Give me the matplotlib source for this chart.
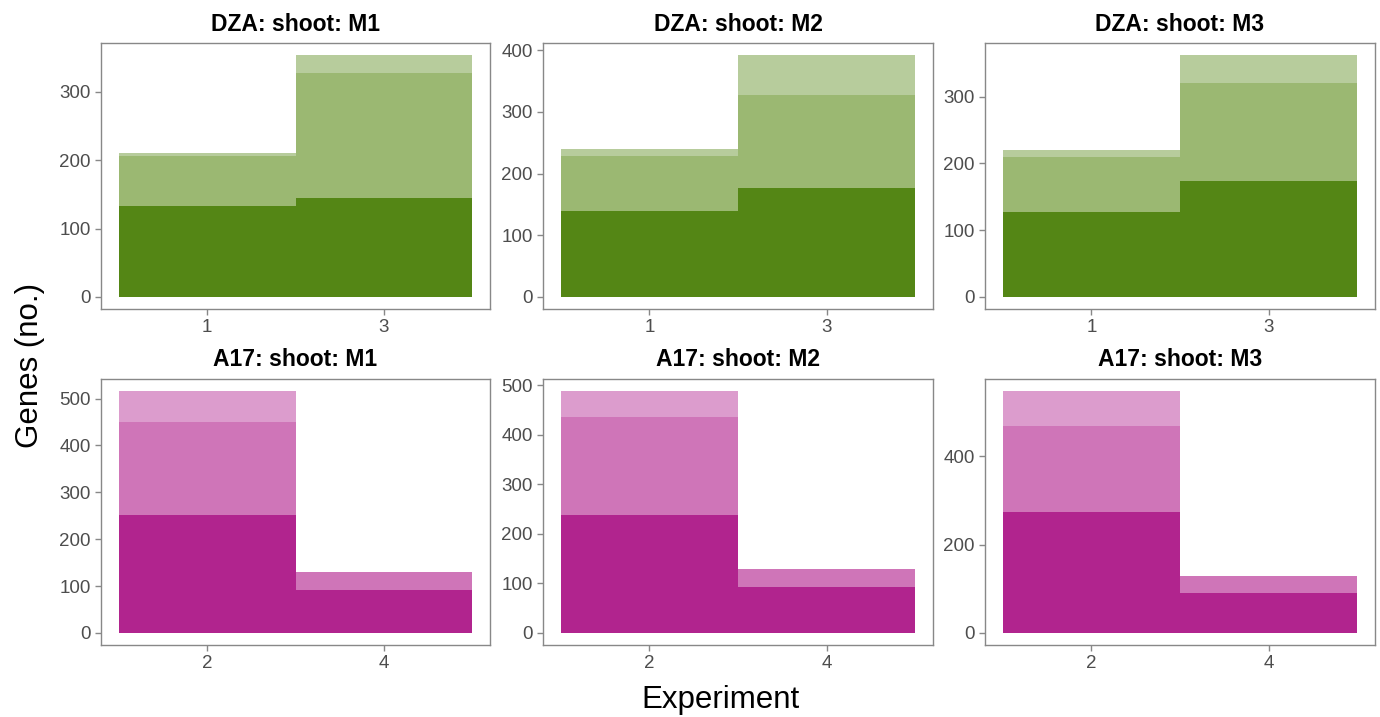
import matplotlib.pyplot as plt
import numpy as np

plt.rcParams['font.family'] = ['Liberation Sans', 'DejaVu Sans']

# values (overlapping layers, each drawn from 0)
titles = ['DZA: shoot: M1', 'DZA: shoot: M2', 'DZA: shoot: M3',
          'A17: shoot: M1', 'A17: shoot: M2', 'A17: shoot: M3']
top_experiments = [1, 3]
bottom_experiments = [2, 4]

light_vals = [[211, 354], [239, 392], [220, 362],
              [516, 129], [488, 128], [548, 128]]
mid_vals = [[206, 328], [229, 328], [210, 320],
            [449, 129], [435, 128], [469, 128]]
dark_vals = [[133, 145], [139, 176], [127, 173],
             [251, 91], [237, 92], [275, 91]]

green = ['#b7cc9c', '#9bb872', '#548615']
pink = ['#dc9ccd', '#cf75b8', '#b1248e']

ytick_sets = [[0, 100, 200, 300], [0, 100, 200, 300, 400], [0, 100, 200, 300],
              [0, 100, 200, 300, 400, 500], [0, 100, 200, 300, 400, 500], [0, 200, 400]]

W, H = 1380, 717
fig = plt.figure(figsize=(W / 100, H / 100), dpi=100)

col_x = [(101, 490), (543, 933), (985, 1375)]
row_y = [(43, 309), (379, 645)]

frame_col = '#888888'
tick_col = '#4d4d4d'

for i in range(6):
    r, c = divmod(i, 3)
    x0, x1 = col_x[c]
    y0, y1 = row_y[r]
    ax = fig.add_axes([x0 / W, 1 - y1 / H, (x1 - x0) / W, (y1 - y0) / H])
    exps = top_experiments if r == 0 else bottom_experiments
    cols = green if r == 0 else pink
    for vals, colr in zip([light_vals[i], mid_vals[i], dark_vals[i]], cols):
        ax.bar(exps, vals, width=2, color=colr, linewidth=0)
    lo, hi = exps[0] - 1, exps[-1] + 1
    pad = (hi - lo) * 0.05
    ax.set_xlim(lo - pad, hi + pad)
    ymax = max(light_vals[i])
    ax.set_ylim(-ymax * 0.05, ymax * 1.05)
    ax.set_xticks(exps)
    ax.set_yticks(ytick_sets[i])
    ax.tick_params(colors=frame_col, labelcolor=tick_col, labelsize=13.5,
                   length=4, width=1)
    for s in ax.spines.values():
        s.set_color(frame_col)
        s.set_linewidth(1)
    ax.set_title(titles[i], fontsize=16.5, fontweight='bold', pad=9)

fig.text(30 / W, 1 - 365 / H, 'Genes (no.)', rotation=90, fontsize=22.5,
         ha='center', va='center')
fig.text(720 / W, 1 - 700 / H, 'Experiment', fontsize=22.5,
         ha='center', va='center')

fig.savefig('out.png', dpi=100)
